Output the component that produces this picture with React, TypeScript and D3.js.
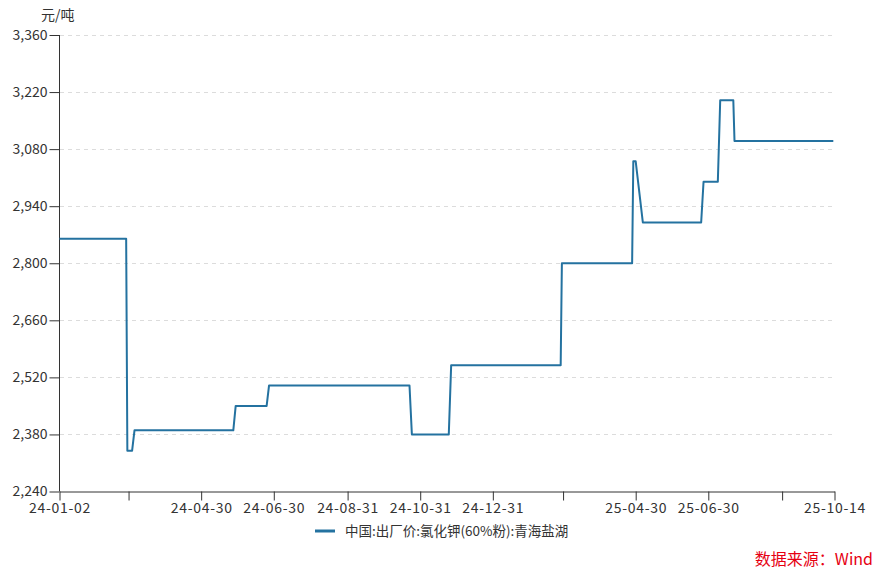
import React, { useEffect, useRef } from "react";
import * as d3 from "d3";

const dates: string[] = [
  "2024-01-02", "2024-02-27", "2024-02-28", "2024-03-03", "2024-03-05",
  "2024-05-27", "2024-05-29", "2024-06-24", "2024-06-26", "2024-10-22",
  "2024-10-24", "2024-11-24", "2024-11-26", "2025-02-26", "2025-02-27",
  "2025-04-27", "2025-04-28", "2025-04-30", "2025-05-06", "2025-06-24",
  "2025-06-26", "2025-07-08", "2025-07-10", "2025-07-21", "2025-07-22",
  "2025-10-13",
];
const prices: number[] = [
  2860, 2860, 2340, 2340, 2390,
  2390, 2450, 2450, 2500, 2500,
  2380, 2380, 2550, 2550, 2800,
  2800, 3050, 3050, 2900, 2900,
  3000, 3000, 3200, 3200, 3100,
  3100,
];
const xTickDates: string[] = [
  "2024-01-02", "2024-02-29", "2024-04-30", "2024-06-30", "2024-08-31",
  "2024-10-31", "2024-12-31", "2025-02-28", "2025-04-30", "2025-06-30",
  "2025-08-31", "2025-10-14",
];
const xTickLabels: string[] = [
  "24-01-02", "", "24-04-30", "24-06-30", "24-08-31",
  "24-10-31", "24-12-31", "", "25-04-30", "25-06-30",
  "", "25-10-14",
];
const yTicks: number[] = [2240, 2380, 2520, 2660, 2800, 2940, 3080, 3220, 3360];
const seriesName = "中国:出厂价:氯化钾(60%粉):青海盐湖";
const unitLabel = "元/吨";
const sourceLabel = "数据来源：Wind";

const W = 896;
const H = 573;
const FONT = "'Noto Sans CJK SC', 'Noto Sans', sans-serif";
const LINE_COLOR = "#2472a0";

export default function App() {
  const ref = useRef<SVGSVGElement | null>(null);

  useEffect(() => {
    document.body.style.margin = "0";
    const svg = d3.select(ref.current);
    svg.selectAll("*").remove();

    const parse = d3.timeParse("%Y-%m-%d");
    const x = d3
      .scaleTime()
      .domain([parse("2024-01-02") as Date, parse("2025-10-14") as Date])
      .range([59.5, 834.5]);
    const y = d3.scaleLinear().domain([2240, 3360]).range([491.5, 35]);

    // grid
    svg
      .append("g")
      .selectAll("line")
      .data(yTicks.filter((t) => t !== 2240))
      .join("line")
      .attr("x1", 60)
      .attr("x2", 833.5)
      .attr("y1", (d) => Math.round(y(d)) + 0.5)
      .attr("y2", (d) => Math.round(y(d)) + 0.5)
      .attr("stroke", "#dcdcdc")
      .attr("stroke-dasharray", "4,4");

    // y axis
    const yAxis = d3
      .axisLeft(y)
      .tickValues(yTicks)
      .tickSize(10)
      .tickPadding(2)
      .tickFormat((d) => d3.format(",")(d as number));
    const gy = svg.append("g").attr("transform", "translate(59.5,0)").call(yAxis);
    gy.select(".domain").attr("stroke", "#333").attr("d", `M-0,35V491.5`);
    gy.selectAll(".tick line").attr("stroke", "#333");
    gy.selectAll(".tick text")
      .attr("fill", "#333")
      .attr("font-size", 14)
      .attr("font-family", FONT);

    // x axis
    const tickDates = xTickDates.map((s) => parse(s) as Date);
    const xAxis = d3
      .axisBottom(x)
      .tickValues(tickDates)
      .tickSize(9)
      .tickPadding(3)
      .tickSizeOuter(0)
      .tickFormat((_d, i) => xTickLabels[i]);
    const gx = svg.append("g").attr("transform", "translate(0,491.5)").call(xAxis);
    gx.select(".domain").attr("stroke", "#333");
    gx.selectAll(".tick line").attr("stroke", "#333");
    gx.selectAll(".tick text")
      .attr("fill", "#333")
      .attr("font-size", 14)
      .attr("letter-spacing", "0.7px")
      .attr("font-family", FONT);
    svg.selectAll("g").attr("font-family", FONT);

    // line
    const pts = dates.map((d, i) => ({ date: parse(d) as Date, v: prices[i] }));
    const line = d3
      .line<{ date: Date; v: number }>()
      .x((d) => x(d.date))
      .y((d) => y(d.v));
    svg
      .append("path")
      .datum(pts)
      .attr("d", line)
      .attr("fill", "none")
      .attr("stroke", LINE_COLOR)
      .attr("stroke-width", 2)
      .attr("stroke-linejoin", "round");

    // unit label
    svg
      .append("text")
      .attr("x", 41)
      .attr("y", 20)
      .attr("font-size", 14)
      .attr("font-family", FONT)
      .attr("fill", "#333")
      .text(unitLabel);

    // legend
    const lg = svg.append("g");
    lg.append("line")
      .attr("x1", 315)
      .attr("x2", 335)
      .attr("y1", 531)
      .attr("y2", 531)
      .attr("stroke", LINE_COLOR)
      .attr("stroke-width", 3);
    lg.append("text")
      .attr("x", 345)
      .attr("y", 536)
      .attr("font-size", 13.5)
      .attr("font-family", FONT)
      .attr("fill", "#333")
      .text(seriesName);

    // source
    svg
      .append("text")
      .attr("x", 873)
      .attr("y", 565)
      .attr("text-anchor", "end")
      .attr("font-size", 16)
      .attr("font-family", FONT)
      .attr("fill", "#e60012")
      .text(sourceLabel);
  }, []);

  return (
    <svg
      ref={ref}
      width={W}
      height={H}
      style={{ display: "block", position: "absolute", left: 0, top: 0, background: "#fff" }}
    />
  );
}
